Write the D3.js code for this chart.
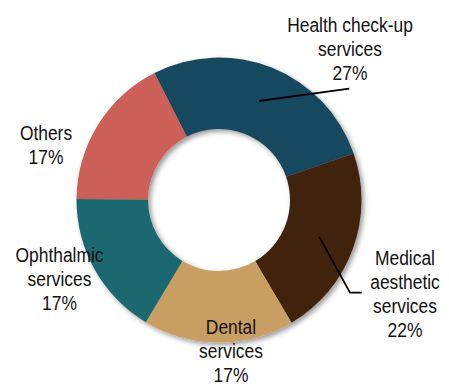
<!DOCTYPE html>
<html>
<head>
<meta charset="utf-8">
<script src="https://cdn.jsdelivr.net/npm/d3@7"></script>
<style>
  html, body { margin: 0; padding: 0; background: #fff; }
  svg { display: block; }
  text { font-family: "Liberation Sans", Arial, sans-serif; fill: #111; }
</style>
</head>
<body>
<svg id="chart" width="449" height="384"></svg>
<script>
// ---- data ----
const categories = ["Health check-up services", "Medical aesthetic services", "Dental services", "Ophthalmic services", "Others"];
const labelLines = [
  ["Health check-up", "services"],
  ["Medical", "aesthetic", "services"],
  ["Dental", "services"],
  ["Ophthalmic", "services"],
  ["Others"]
];
const shares = [27.2, 21.8, 17.1, 16.5, 17.4];
const colors = ["#174a5e", "#40200f", "#c89e62", "#1f6870", "#cc5f59"];

// ---- layout ----
const W = 449, H = 384;
const cx = 219, cy = 200;
const outerR = 142.5, innerR = 71;
const startDeg = -27;
const fontSize = 20, lineH = 24, squeeze = 0.87;
// label anchor (centre x, first baseline y) and leader-line ends per slice
const labelPos = [
  { x: 350, y: 31.7, leader: [[349.3, 88.7]] },
  { x: 405, y: 265, leader: [[350, 292.7], [361.7, 292.7]] },
  { x: 231, y: 334.3, leader: null },
  { x: 59.5, y: 261.7, leader: null },
  { x: 46, y: 140, leader: null }
];

const svg = d3.select("#chart");
const defs = svg.append("defs");
const f = defs.append("filter").attr("id", "shadow")
  .attr("x", "-20%").attr("y", "-20%").attr("width", "140%").attr("height", "140%");
f.append("feDropShadow").attr("dx", 2.5).attr("dy", 2.5).attr("stdDeviation", 2.5)
  .attr("flood-color", "#000").attr("flood-opacity", 0.4);

const pie = d3.pie().sort(null).value(d => d)
  .startAngle(startDeg * Math.PI / 180)
  .endAngle(startDeg * Math.PI / 180 + 2 * Math.PI);
const arcs = pie(shares);
const arc = d3.arc().innerRadius(innerR).outerRadius(outerR);

const g = svg.append("g").attr("transform", `translate(${cx},${cy})`);
g.append("g").attr("filter", "url(#shadow)")
  .selectAll("path").data(arcs).join("path")
  .attr("d", arc)
  .attr("fill", (d, i) => colors[i]);

// leader lines
arcs.forEach((d, i) => {
  const lp = labelPos[i];
  if (!lp.leader) return;
  const c = arc.centroid(d);
  const pts = [[cx + c[0], cy + c[1]], ...lp.leader];
  svg.append("path")
    .attr("d", d3.line()(pts))
    .attr("fill", "none")
    .attr("stroke", "#000")
    .attr("stroke-width", 1.8);
});

// labels
arcs.forEach((d, i) => {
  const lp = labelPos[i];
  const lines = labelLines[i].concat([Math.round(shares[i]) + "%"]);
  const lg = svg.append("g").attr("transform", `translate(${lp.x},0) scale(${squeeze},1)`);
  lines.forEach((t, k) => {
    lg.append("text")
      .attr("x", 0)
      .attr("y", lp.y + k * lineH)
      .attr("text-anchor", "middle")
      .attr("font-size", fontSize)
      .text(t);
  });
});
</script>
</body>
</html>
